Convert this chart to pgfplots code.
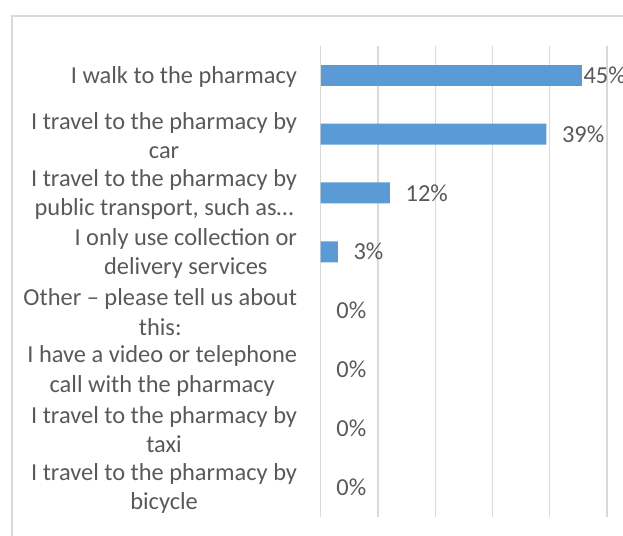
\documentclass[border=0pt]{standalone}
\usepackage{pgfplots}
\pgfplotsset{compat=1.18}
\usepackage{fontspec}
\setmainfont{Carlito}
\definecolor{barblue}{HTML}{5B9BD5}
\definecolor{txtgray}{HTML}{595959}
\definecolor{gridgray}{HTML}{D9D9D9}
\begin{document}
\begin{tikzpicture}[x=1bp,y=1bp]
\useasboundingbox (0,0) rectangle (623,536);
\clip (0,0) rectangle (623,536);
\draw[gridgray, line width=1.3bp] (12,-20) rectangle (660,520);
\begin{axis}[
  at={(320.7bp,19.3bp)}, anchor=south west,
  scale only axis, width=286.3bp, height=471bp,
  xmin=0, xmax=50, ymin=-0.5, ymax=7.5,
  y dir=reverse,
  xbar, bar width=21bp, bar shift=0pt,
  axis line style={draw=none},
  xtick={0,10,20,30,40,50}, xticklabels={},
  xmajorgrids, major grid style={gridgray, line width=1.1bp},
  major tick length=0pt,
  ytick={0,1,2,3,4,5,6,7},
  yticklabels={
    {I walk to the pharmacy},
    {I travel to the pharmacy by\\car},
    {I travel to the pharmacy by\\public transport, such as\ldots},
    {I only use collection or\\delivery services},
    {Other -- please tell us about\\this:},
    {I have a video or telephone\\call with the pharmacy},
    {I travel to the pharmacy by\\taxi},
    {I travel to the pharmacy by\\bicycle}},
  yticklabel style={align=center, anchor=east, inner sep=0pt, xshift=-23.5bp, yshift=-1.5bp,
    font=\fontsize{24.5}{29.5}\selectfont, text=txtgray},
  point meta=explicit symbolic,
  nodes near coords,
  every node near coord/.append style={anchor=west, inner sep=0pt, xshift=15.5bp,
    font=\fontsize{24.5}{29.5}\selectfont, text=txtgray},
  clip=false,
]
\addplot[fill=barblue, draw=none] coordinates {
  (39.4,1) [39\%]
  (12.1,2) [12\%]
  (3.0,3) [3\%]
};
\addplot[draw=none, fill=none] coordinates {
  (0,4) [0\%]
  (0,5) [0\%]
  (0,6) [0\%]
  (0,7) [0\%]
};
\addplot[fill=barblue, draw=none, every node near coord/.append style={xshift=-14bp}] coordinates {
  (45.6,0) [45\%]
};
\end{axis}
\end{tikzpicture}
\end{document}
